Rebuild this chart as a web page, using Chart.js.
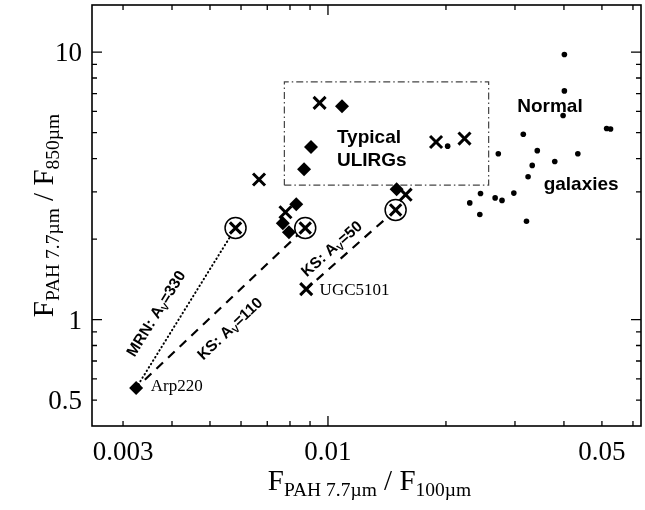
<!DOCTYPE html>
<html>
<head>
<meta charset="utf-8">
<script src="https://cdn.jsdelivr.net/npm/chart.js@4/dist/chart.umd.min.js"></script>
<style>
  html, body { margin: 0; padding: 0; background: #fff; }
</style>
</head>
<body>
<canvas id="chart" width="645" height="510"></canvas>
<script>
const SERIF = '"Liberation Serif", "Times New Roman", serif';
const SANS = '"Liberation Sans", Arial, sans-serif';

// axis ticks
const xTickLabels = [0.003, 0.01, 0.05];
const yTickLabels = [0.5, 1, 10];
const xMajor = [0.01];
const xMinor = [0.003, 0.004, 0.005, 0.006, 0.007, 0.008, 0.009, 0.02, 0.03, 0.04, 0.05, 0.06];
const yMajor = [1, 10];
const yMinor = [0.5, 0.6, 0.7, 0.8, 0.9, 2, 3, 4, 5, 6, 7, 8, 9];

// ULIRGs drawn as diamonds (first one is Arp220)
const diamondX = [0.00324, 0.00830, 0.00767, 0.00795, 0.01086, 0.00905, 0.00869, 0.01497];
const diamondY = [0.555, 2.70, 2.29, 2.12, 6.28, 4.42, 3.65, 3.07];

// ULIRGs drawn as crosses (last one is UGC5101)
const crossX = [0.00667, 0.00779, 0.00952, 0.01887, 0.0223, 0.01578, 0.0088];
const crossY = [3.34, 2.52, 6.46, 4.61, 4.75, 2.93, 1.30];

// normal galaxies
const normalX = [0.0401, 0.0401, 0.0398, 0.0514, 0.0526, 0.0315, 0.0272, 0.0342, 0.0434, 0.0332,
                 0.0379, 0.0324, 0.0298, 0.0245, 0.0267, 0.0278, 0.0230, 0.0244, 0.0321, 0.0202];
const normalY = [9.80, 7.16, 5.79, 5.18, 5.16, 4.93, 4.17, 4.28, 4.17, 3.77,
                 3.90, 3.42, 2.97, 2.96, 2.85, 2.79, 2.73, 2.47, 2.33, 4.45];

// extinction corrected positions (circled crosses)
const corrX = [0.00581, 0.00875, 0.01488];
const corrY = [2.20, 2.20, 2.57];

// correction tracks
const mrnX = [0.00324, 0.00581];
const mrnY = [0.555, 2.20];
const ks110X = [0.00324, 0.00875];
const ks110Y = [0.555, 2.20];
const ks50X = [0.0088, 0.01488];
const ks50Y = [1.30, 2.57];

// "typical ULIRGs" box
const boxX = [0.00774, 0.0257, 0.0257, 0.00774, 0.00774];
const boxY = [3.18, 3.18, 7.74, 7.74, 3.18];

// text labels (data coordinates)
const groupText = ['Normal', 'galaxies', 'Typical', 'ULIRGs'];
const groupX = [0.0304, 0.0355, 0.01054, 0.01054];
const groupY = [5.975, 3.06, 4.575, 3.75];
const nameText = ['Arp220', 'UGC5101'];
const nameX = [0.00353, 0.00952];
const nameY = [0.539, 1.237];
const trackText = [['MRN: A', 'V', '=330'], ['KS: A', 'V', '=110'], ['KS: A', 'V', '=50']];
const trackX = [0.00364, 0.00562, 0.01022];
const trackY = [1.053, 0.925, 1.84];
const tracks = [[mrnX, mrnY], [ks110X, ks110Y], [ks50X, ks50Y]];

function pts(xs, ys) {
  return xs.map((v, i) => ({x: v, y: ys[i]}));
}

// draw pieces of text one after the other
function drawRich(ctx, parts, x, y, align) {
  let w = 0;
  for (const p of parts) {
    ctx.font = p.font;
    w += ctx.measureText(p.t).width;
  }
  let cx = align === 'center' ? x - w / 2 : x;
  for (const p of parts) {
    ctx.font = p.font;
    ctx.fillText(p.t, cx, y + (p.dy || 0));
    cx += ctx.measureText(p.t).width;
  }
}

const decorations = {
  id: 'decorations',
  afterDatasetsDraw(chart) {
    const {ctx, chartArea: a, scales: {x, y}} = chart;
    ctx.save();
    ctx.strokeStyle = '#000';
    ctx.fillStyle = '#000';

    // frame
    ctx.lineWidth = 1.6;
    ctx.strokeRect(a.left, a.top, a.right - a.left, a.bottom - a.top);

    // inward ticks on all four sides
    ctx.lineWidth = 1.3;
    ctx.beginPath();
    for (const v of xMajor.concat(xMinor)) {
      const len = xMajor.includes(v) ? 10 : 5;
      const px = x.getPixelForValue(v);
      ctx.moveTo(px, a.bottom); ctx.lineTo(px, a.bottom - len);
      ctx.moveTo(px, a.top); ctx.lineTo(px, a.top + len);
    }
    for (const v of yMajor.concat(yMinor)) {
      const len = yMajor.includes(v) ? 10 : 5;
      const py = y.getPixelForValue(v);
      ctx.moveTo(a.left, py); ctx.lineTo(a.left + len, py);
      ctx.moveTo(a.right, py); ctx.lineTo(a.right - len, py);
    }
    ctx.stroke();

    // tick labels
    ctx.font = '27px ' + SERIF;
    ctx.textBaseline = 'alphabetic';
    ctx.textAlign = 'center';
    for (const v of xTickLabels) {
      ctx.fillText(String(v), x.getPixelForValue(v), a.bottom + 34);
    }
    ctx.textAlign = 'right';
    for (const v of yTickLabels) {
      ctx.fillText(String(v), a.left - 10, y.getPixelForValue(v) + 9);
    }

    // axis titles
    ctx.textAlign = 'left';
    const big = '29px ' + SERIF;
    const small = '19.5px ' + SERIF;
    drawRich(ctx, [
      {t: 'F', font: big}, {t: 'PAH 7.7\u00b5m', font: small, dy: 6},
      {t: ' / F', font: big}, {t: '100\u00b5m', font: small, dy: 6}
    ], (a.left + a.right) / 2 + 3, 490, 'center');

    ctx.save();
    ctx.translate(53, (a.top + a.bottom) / 2);
    ctx.rotate(-Math.PI / 2);
    drawRich(ctx, [
      {t: 'F', font: big}, {t: 'PAH 7.7\u00b5m', font: small, dy: 6},
      {t: ' / F', font: big}, {t: '850\u00b5m', font: small, dy: 6}
    ], 0, 0, 'center');
    ctx.restore();

    // group labels
    ctx.font = 'bold 19px ' + SANS;
    groupText.forEach((t, i) => {
      ctx.fillText(t, x.getPixelForValue(groupX[i]), y.getPixelForValue(groupY[i]));
    });

    // object names
    ctx.font = '17px ' + SERIF;
    nameText.forEach((t, i) => {
      ctx.fillText(t, x.getPixelForValue(nameX[i]), y.getPixelForValue(nameY[i]));
    });

    // track labels, rotated along their tracks
    trackText.forEach((parts, i) => {
      const [tx, ty] = tracks[i];
      const x0 = x.getPixelForValue(tx[0]), y0 = y.getPixelForValue(ty[0]);
      const x1 = x.getPixelForValue(tx[1]), y1 = y.getPixelForValue(ty[1]);
      const ang = Math.atan2(y1 - y0, x1 - x0);
      ctx.save();
      ctx.translate(x.getPixelForValue(trackX[i]), y.getPixelForValue(trackY[i]));
      ctx.rotate(ang);
      drawRich(ctx, [
        {t: parts[0], font: 'bold 15.5px ' + SANS},
        {t: parts[1], font: 'bold 10px ' + SANS, dy: 3},
        {t: parts[2], font: 'bold 15.5px ' + SANS}
      ], 0, 5, 'center');
      ctx.restore();
    });

    ctx.restore();
  }
};

const lineStyle = {
  showLine: true,
  pointRadius: 0,
  borderColor: '#000',
  fill: false,
};

new Chart(document.getElementById('chart'), {
  type: 'scatter',
  data: {
    datasets: [
      {data: pts(boxX, boxY), ...lineStyle, borderColor: '#444', borderWidth: 1.2,
       borderDash: [7, 3, 1.5, 3], order: 10},
      {data: pts(mrnX, mrnY), ...lineStyle, borderWidth: 2, borderCapStyle: 'round',
       borderDash: [0.5, 3.5], order: 9},
      {data: pts(ks110X, ks110Y), ...lineStyle, borderWidth: 2.2, borderDash: [9, 7], borderDashOffset: 4, order: 8},
      {data: pts(ks50X, ks50Y), ...lineStyle, borderWidth: 2.2, borderDash: [9, 7], borderDashOffset: 2, order: 7},
      {data: pts(normalX, normalY), pointStyle: 'circle', pointRadius: 2.8,
       backgroundColor: '#000', borderWidth: 0, order: 4},
      {data: pts(corrX, corrY), pointStyle: 'circle', pointRadius: 10.5,
       backgroundColor: '#fff', borderColor: '#000', borderWidth: 1.5, order: 3},
      {data: pts(corrX, corrY), pointStyle: 'crossRot', pointRadius: 8,
       borderColor: '#000', borderWidth: 3, order: 2},
      {data: pts(diamondX, diamondY), pointStyle: 'rectRot', pointRadius: 7,
       backgroundColor: '#000', borderColor: '#000', borderWidth: 0, order: 1},
      {data: pts(crossX, crossY), pointStyle: 'crossRot', pointRadius: 8.5,
       borderColor: '#000', borderWidth: 3, order: 0}
    ]
  },
  options: {
    responsive: false,
    animation: false,
    devicePixelRatio: 1,
    layout: {autoPadding: false, padding: {top: 5, right: 4, left: 0, bottom: 0}},
    plugins: {legend: {display: false}, tooltip: {enabled: false}},
    scales: {
      x: {
        type: 'logarithmic', min: 0.0025, max: 0.0629,
        ticks: {display: false}, grid: {display: false}, border: {display: false},
        afterFit(scale) { scale.height = 84; }
      },
      y: {
        type: 'logarithmic', min: 0.4, max: 15,
        ticks: {display: false}, grid: {display: false}, border: {display: false},
        afterFit(scale) { scale.width = 92; }
      }
    }
  },
  plugins: [decorations]
});
</script>
</body>
</html>
